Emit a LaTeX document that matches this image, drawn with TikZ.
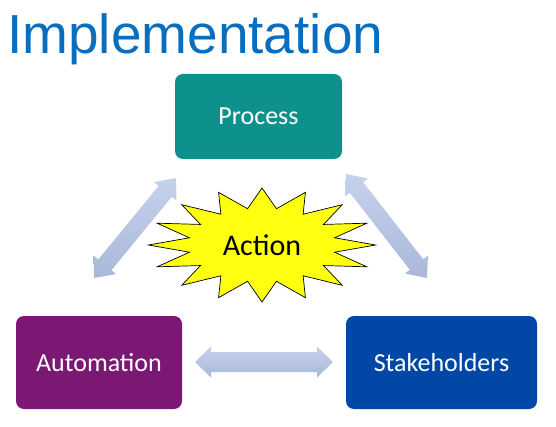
\documentclass[tikz,border=0pt]{standalone}
\usepackage{fontspec}
\setmainfont{Carlito}
\newfontfamily\titlefont{Liberation Sans}
\definecolor{titleblue}{HTML}{0A6EBF}
\definecolor{procteal}{HTML}{0E918C}
\definecolor{autopurple}{HTML}{7B1873}
\definecolor{stakeblue}{HTML}{0047A6}
\definecolor{arrtop}{HTML}{C6D2EC}
\definecolor{arrbot}{HTML}{A9B8DA}
\definecolor{staryellow}{HTML}{FFFF10}
\tikzset{
  box/.style={rectangle, rounded corners=8pt, inner sep=0pt, text=white, font=\fontsize{26}{30}\selectfont},
  blockarrow/.style={top color=arrtop, bottom color=arrbot, draw=none},
}
\newcommand{\dblblock}[7]{% x, y, angle, length, half shaft, half head, head length
  \begin{scope}[shift={(#1,#2)}, rotate=#3]
    \shade[blockarrow] (0,0) -- (#7,#6) -- (#7,#5) -- (#4-#7,#5) -- (#4-#7,#6) -- (#4,0)
      -- (#4-#7,-#6) -- (#4-#7,-#5) -- (#7,-#5) -- (#7,-#6) -- cycle;
  \end{scope}}
\begin{document}
\begin{tikzpicture}[x=1pt,y=-1pt]
\useasboundingbox[fill=white] (0,0) rectangle (556,427);
% title
\node[anchor=base west, inner sep=0pt, text=titleblue, font=\titlefont\fontsize{55}{60}\selectfont] (title) at (7,54) {Implementation};
% boxes
\node[box, fill=procteal, minimum width=167pt, minimum height=85pt] (process) at (258.5,116.5) {Process};
\node[box, fill=autopurple, minimum width=166pt, minimum height=93pt] (automation) at (99,362.5) {Automation};
\node[box, fill=stakeblue, minimum width=191pt, minimum height=93pt] (stake) at (441.5,362.5) {Stakeholders};
% block arrows
\dblblock{94}{278}{50.6}{129.3}{8.5}{14.5}{17}
\dblblock{346}{174}{-52.1}{131.8}{8.5}{14.5}{17}
\dblblock{195}{362}{0}{138}{10}{15.5}{16}
% star
\draw[fill=staryellow, draw=black, line width=0.7pt, line join=miter]
  (262,188)
  \foreach \k in {0,...,15} {
    -- ({262+74*cos(90-22.5*\k-11.25)},{245-37*sin(90-22.5*\k-11.25)})
    -- ({262+113.5*cos(90-22.5*(\k+1))},{245-57*sin(90-22.5*(\k+1))})
  } -- cycle;
\node[inner sep=0pt, font=\fontsize{30}{34}\selectfont] (action) at (262,245) {Action};
\end{tikzpicture}
\end{document}
